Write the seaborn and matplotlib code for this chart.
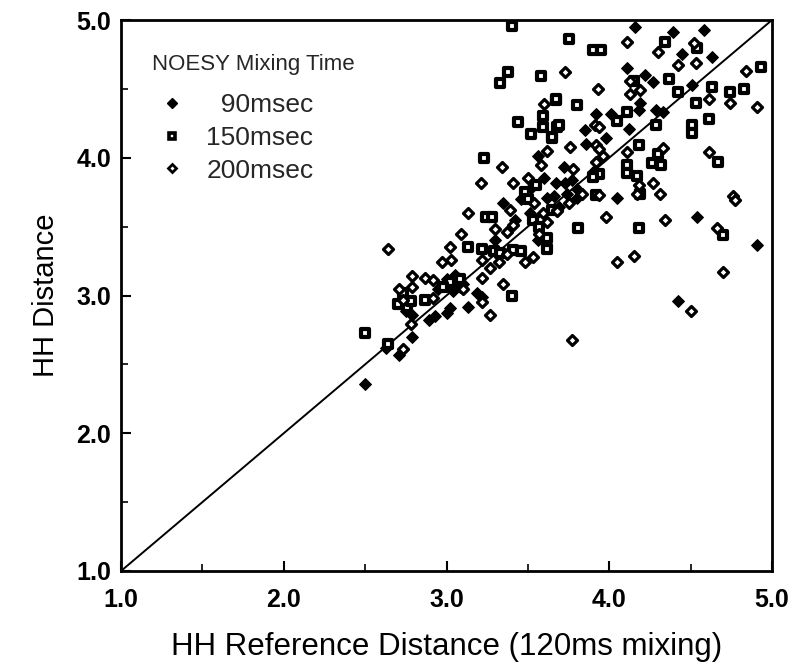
import matplotlib
matplotlib.use("Agg")
import matplotlib.pyplot as plt
import seaborn as sns
from matplotlib.lines import Line2D

# ---- data (HH reference distance, HH distance) ----
x90 = [3.56, 3.35, 4.16, 4.58, 4.39, 4.63, 4.11, 4.27, 4.51, 4.19, 4.18, 3.92, 4.01, 4.12, 4.29,
       4.33, 3.86, 4.05, 3.72, 3.67, 3.73, 3.77, 3.80, 3.74, 3.80, 3.69, 4.54, 4.91, 4.42, 2.50,
       2.63, 2.71, 2.79, 2.79, 2.75, 2.89, 2.93, 3.00, 3.02, 3.13, 3.19, 3.22, 3.51, 3.56,
       3.03, 3.06, 3.08, 3.00, 3.05, 2.95, 3.46, 3.52, 3.60, 3.42, 3.30, 3.85, 3.98, 4.22, 4.45,
       3.62, 3.90, 3.66, 3.04, 3.07, 3.10]
y90 = [4.01, 3.67, 4.95, 4.93, 4.91, 4.73, 4.65, 4.55, 4.53, 4.40, 4.35, 4.32, 4.32, 4.21, 4.35,
       4.33, 4.10, 3.71, 3.93, 3.82, 3.82, 3.84, 3.77, 3.74, 3.71, 3.64, 3.57, 3.37, 2.96, 2.36,
       2.62, 2.57, 2.70, 2.86, 2.89, 2.82, 2.85, 2.87, 2.91, 2.92, 3.02, 2.99, 3.60, 3.40,
       3.08, 3.10, 3.06, 3.12, 3.15, 3.05, 3.70, 3.78, 3.85, 3.55, 3.40, 4.20, 4.14, 4.60, 4.75,
       3.71, 3.90, 3.72, 3.03, 3.13, 3.08]

x150 = [3.40, 3.38, 3.33, 3.58, 3.67, 3.44, 3.59, 3.59, 3.52, 3.65, 3.68, 3.23, 3.48, 3.75, 3.90,
        3.95, 4.34, 4.54, 4.93, 4.15, 4.37, 4.42, 4.63, 4.74, 4.83, 4.53, 4.61, 4.51, 4.51, 3.67,
        3.80, 4.05, 4.11, 4.29, 3.69, 3.65, 4.18, 4.30, 4.26, 4.32, 4.67, 4.11, 4.11, 4.17, 4.19,
        3.92, 3.94, 3.90, 3.81, 4.18, 4.70, 2.50, 2.64, 2.70, 2.76, 2.78, 2.73, 2.87, 3.40, 3.13,
        3.22, 3.24, 3.28, 3.29, 3.33, 3.41, 3.46, 3.53, 3.57, 3.62, 3.65, 3.62, 3.02, 3.08, 2.98,
        3.55, 3.50]
y150 = [4.96, 4.62, 4.54, 4.59, 4.42, 4.26, 4.30, 4.22, 4.17, 4.14, 4.22, 4.00, 3.75, 4.86, 4.78,
        4.78, 4.84, 4.80, 4.66, 4.56, 4.57, 4.48, 4.51, 4.48, 4.50, 4.40, 4.28, 4.24, 4.18, 4.43,
        4.38, 4.27, 4.33, 4.24, 4.24, 4.15, 4.09, 4.03, 3.96, 3.95, 3.97, 3.95, 3.89, 3.87, 3.74,
        3.73, 3.88, 3.86, 3.49, 3.49, 3.44, 2.73, 2.65, 2.94, 2.92, 2.96, 3.02, 2.97, 3.00, 3.35,
        3.34, 3.57, 3.57, 3.32, 3.31, 3.33, 3.32, 3.55, 3.50, 3.42, 3.62, 3.34, 3.10, 3.12, 3.06,
        3.80, 3.70]

x200 = [3.60, 3.34, 3.21, 3.41, 4.11, 4.30, 4.52, 4.42, 4.53, 4.84, 3.73, 4.13, 4.19, 4.74, 4.91,
        4.61, 3.93, 4.13, 3.91, 3.94, 3.76, 3.92, 3.94, 3.96, 3.92, 4.11, 4.33, 4.61, 4.18, 4.17,
        4.27, 4.31, 4.76, 3.94, 3.78, 3.83, 3.68, 3.75, 3.98, 4.34, 4.66, 4.05, 4.15, 4.70, 4.50,
        3.77, 4.77, 2.64, 3.13, 3.09, 3.02, 2.73, 2.78, 2.71, 2.79, 2.79, 2.73, 2.87, 2.92, 2.92,
        3.22, 3.27, 3.35, 2.97, 3.03, 3.10, 3.22, 3.27, 3.22, 3.30, 3.37, 3.41, 3.37, 3.32, 3.48,
        3.53, 3.54, 3.59, 3.57, 3.62, 3.68, 3.39, 3.58, 3.62, 3.50]
y200 = [4.39, 3.93, 3.82, 3.82, 4.84, 4.77, 4.83, 4.67, 4.69, 4.63, 4.62, 4.56, 4.49, 4.40, 4.37,
        4.43, 4.50, 4.46, 4.24, 4.22, 4.08, 4.09, 4.06, 4.01, 3.97, 4.04, 4.07, 4.04, 3.80, 3.74,
        3.82, 3.74, 3.72, 3.73, 3.92, 3.74, 3.62, 3.67, 3.57, 3.55, 3.49, 3.24, 3.29, 3.17, 2.89,
        2.68, 3.69, 3.34, 3.60, 3.45, 3.35, 2.61, 2.79, 3.05, 3.14, 3.06, 2.97, 3.13, 3.11, 2.98,
        2.95, 2.86, 3.08, 3.24, 3.26, 3.05, 3.26, 3.20, 3.13, 3.48, 3.46, 3.51, 3.30, 3.24, 3.24,
        3.28, 3.67, 3.60, 3.45, 3.53, 3.61, 3.62, 3.95, 4.05, 3.85]

series_labels = ["  90msec", "150msec", "200msec"]
legend_title = "NOESY Mixing Time"
ticks = [1.0, 2.0, 3.0, 4.0, 5.0]
tick_labels = ["1.0", "2.0", "3.0", "4.0", "5.0"]
identity = [1.0, 5.0]

sns.set_theme(style="white")
plt.rcParams["font.family"] = ["Liberation Sans", "DejaVu Sans"]

fig = plt.figure(figsize=(7.95, 6.66), dpi=100)
ax = fig.add_axes([121 / 795, 1 - 571 / 666, 651 / 795, 551 / 666])

sns.lineplot(x=identity, y=identity, ax=ax, color="black", linewidth=1.4)

sns.scatterplot(x=x90, y=y90, ax=ax, marker="D", s=36, color="black",
                edgecolor="black", linewidth=0.8, zorder=3)
sns.scatterplot(x=x150, y=y150, ax=ax, marker="s", s=26, color="white",
                edgecolor="black", linewidth=3.0, zorder=3)
sns.scatterplot(x=x200, y=y200, ax=ax, marker="D", s=26, color="white",
                edgecolor="black", linewidth=2.3, zorder=3)

ax.set_xlim(1.0, 5.0)
ax.set_ylim(1.0, 5.0)
ax.set_xticks(ticks)
ax.set_xticklabels(tick_labels)
ax.set_yticks(ticks)
ax.set_yticklabels(tick_labels)
ax.set_xticks([1.5, 2.5, 3.5, 4.5], minor=True)
ax.set_yticks([1.5, 2.5, 3.5, 4.5], minor=True)
ax.tick_params(which="major", direction="in", length=7, width=1.5, color="black",
               labelsize=18, labelcolor="black")
ax.tick_params(which="minor", direction="in", length=5, width=1.2, color="black")
ax.tick_params(axis="x", which="major", pad=12)
ax.tick_params(axis="y", which="major", pad=7)
ax.tick_params(axis="x", bottom=True, which="both")
ax.tick_params(axis="y", left=True, which="both")
for lab in ax.get_xticklabels() + ax.get_yticklabels():
    lab.set_fontweight("bold")
for sp in ax.spines.values():
    sp.set_color("black")
    sp.set_linewidth(2.0)

ax.set_xlabel("HH Reference Distance (120ms mixing)", fontsize=22.5, color="black", labelpad=15)
ax.set_ylabel("HH Distance", fontsize=21, color="black", labelpad=12)

handles = [
    Line2D([], [], linestyle="none", marker="D", markersize=5.5, markerfacecolor="black",
           markeredgecolor="black"),
    Line2D([], [], linestyle="none", marker="s", markersize=5, markerfacecolor="white",
           markeredgecolor="black", markeredgewidth=2.6),
    Line2D([], [], linestyle="none", marker="D", markersize=4.5, markerfacecolor="white",
           markeredgecolor="black", markeredgewidth=2.0),
]
leg = ax.legend(handles, series_labels, title=legend_title, loc="upper left",
                bbox_to_anchor=(0.048, 0.938), frameon=False, fontsize=19,
                title_fontproperties={"size": 16},
                labelspacing=0.33, handletextpad=0.55, borderpad=0, borderaxespad=0,
                handlelength=1.5)
leg._legend_box.align = "left"
leg._legend_box.sep = 13

fig.savefig("out.png", dpi=100)
